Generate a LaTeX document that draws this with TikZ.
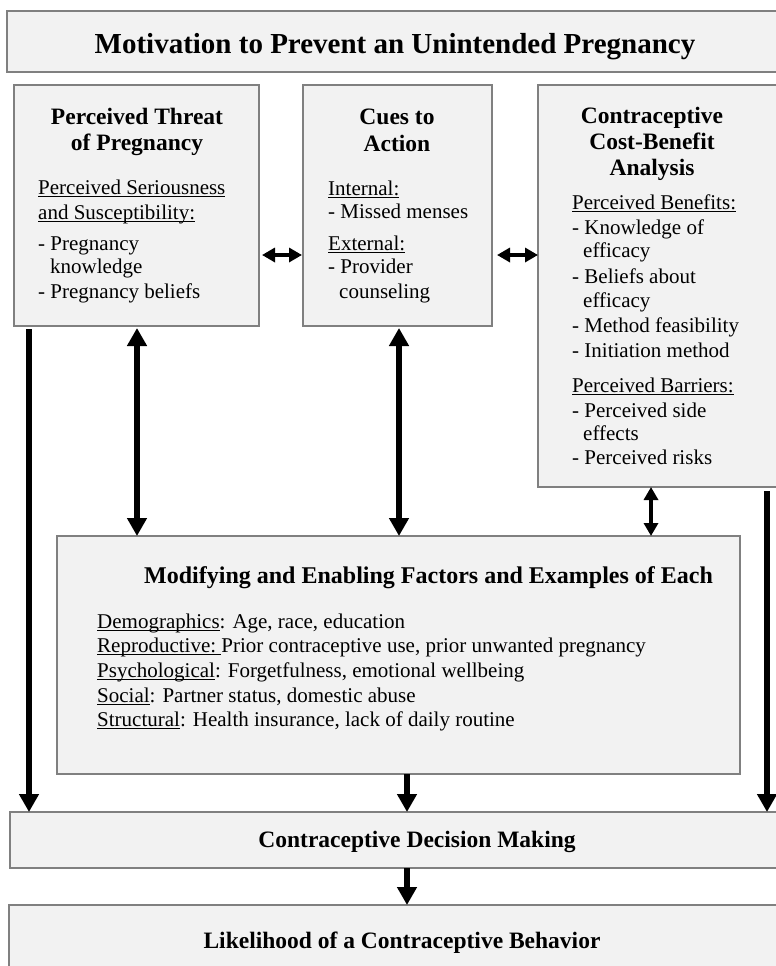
\documentclass[tikz,border=0pt]{standalone}
\usepackage{fontspec}
\setmainfont{Liberation Serif}
\usetikzlibrary{arrows.meta,positioning,calc}
\definecolor{boxgray}{RGB}{242,242,242}
\definecolor{edgegray}{RGB}{128,128,128}
\newcommand{\uword}[1]{\setbox0\hbox{#1}\rlap{\rule[-3pt]{\wd0}{1.1pt}}\box0}
\tikzset{
  box/.style = {draw = edgegray, fill = boxgray, line width = 1.3pt, anchor = north west, inner sep = 0pt, outer sep = 0pt},
  head/.style = {anchor = base, font = \fontsize{23.5}{26}\selectfont\bfseries},
  body/.style = {anchor = base west, inner sep = 0pt, font = \fontsize{21}{24}\selectfont},
  bigarrow/.style = {line width = 6.5pt, -{Triangle[length=18pt, width=19pt]}},
  bigboth/.style = {line width = 6.5pt, {Triangle[length=18pt, width=19pt]}-{Triangle[length=18pt, width=19pt]}},
  smallboth/.style = {line width = 4pt, {Triangle[length=13pt, width=14pt]}-{Triangle[length=13pt, width=14pt]}}
}
\begin{document}
\begin{tikzpicture}[x = 1pt, y = -1pt]
\useasboundingbox (0,0) rectangle (776,966);
\clip (0,0) rectangle (776,966);
% Boxes
\node[box, minimum width = 783pt, minimum height = 61pt] (motiv) at (7,11) {};
\node[box, minimum width = 245pt, minimum height = 241pt] (threat) at (14,85) {};
\node[box, minimum width = 189pt, minimum height = 241pt] (cues) at (303,85) {};
\node[box, minimum width = 252pt, minimum height = 402pt] (costben) at (538,85) {};
\node[box, minimum width = 683pt, minimum height = 238pt] (modif) at (57,536) {};
\node[box, minimum width = 780pt, minimum height = 56pt] (decide) at (10,812) {};
\node[box, minimum width = 781pt, minimum height = 85pt] (likely) at (9,905) {};
% Title
\node[anchor = base, font = \fontsize{29}{32}\selectfont\bfseries] (motivtxt) at (395,53) {Motivation to Prevent an Unintended Pregnancy};
% Perceived threat
\node[head] (threath1) at (137,124) {Perceived Threat};
\node[head] (threath2) at (137,150) {of Pregnancy};
\node[body] (threat1) at (38,194) {\uword{Perceived Seriousness}};
\node[body] (threat2) at (38,219) {\uword{and Susceptibility:}};
\node[body] (threat3) at (38,250) {- Pregnancy};
\node[body] (threat4) at (50,273) {knowledge};
\node[body] (threat5) at (38,298) {- Pregnancy beliefs};
% Cues to action
\node[head] (cuesh1) at (397,124) {Cues to};
\node[head] (cuesh2) at (397,151) {Action};
\node[body] (cues1) at (328,195) {\uword{Internal:}};
\node[body] (cues2) at (328,218) {- Missed menses};
\node[body] (cues3) at (328,250) {\uword{External:}};
\node[body] (cues4) at (328,273) {- Provider};
\node[body] (cues5) at (339,298) {counseling};
% Cost-benefit
\node[head] (costh1) at (652,123) {Contraceptive};
\node[head] (costh2) at (652,149) {Cost-Benefit};
\node[head] (costh3) at (652,175) {Analysis};
\node[body] (cost1) at (572,209) {\uword{Perceived Benefits:}};
\node[body] (cost2) at (572,234) {- Knowledge of};
\node[body] (cost3) at (583,257) {efficacy};
\node[body] (cost4) at (572,283) {- Beliefs about};
\node[body] (cost5) at (583,307) {efficacy};
\node[body] (cost6) at (572,332) {- Method feasibility};
\node[body] (cost7) at (572,357) {- Initiation method};
\node[body] (cost8) at (572,392) {\uword{Perceived Barriers:}};
\node[body] (cost9) at (572,417) {- Perceived side};
\node[body] (cost10) at (583,440) {effects};
\node[body] (cost11) at (572,464) {- Perceived risks};
% Modifying factors
\node[head, anchor = base west, inner sep = 0pt, font = \fontsize{24}{26}\selectfont\bfseries] (modifh) at (144,583) {Modifying and Enabling Factors and Examples of Each};
\node[body] (modif1) at (97,628) {\uword{Demographics}: Age, race, education};
\node[body] (modif2) at (97,652) {\uword{Reproductive:\ }Prior contraceptive use, prior unwanted pregnancy};
\node[body] (modif3) at (97,677) {\uword{Psychological}: Forgetfulness, emotional wellbeing};
\node[body] (modif4) at (97,702) {\uword{Social}: Partner status, domestic abuse};
\node[body] (modif5) at (97,726) {\uword{Structural}: Health insurance, lack of daily routine};
% Bottom boxes
\node[head] (decidetxt) at (417,847) {Contraceptive Decision Making};
\node[head] (likelytxt) at (402,948) {Likelihood of a Contraceptive Behavior};
% Arrows
\coordinate (xleft) at (29,0);
\coordinate (xthreat) at (137,0);
\coordinate (xcues) at (399,0);
\coordinate (xcost) at (651,0);
\coordinate (xright) at (767,0);
\coordinate (xmid) at (407,0);
\coordinate (yside) at (0,255);
\draw[smallboth, shorten <= 3pt, shorten >= 1pt] (threat.east |- yside) -- (cues.west |- yside);
\draw[smallboth, shorten <= 5pt] (cues.east |- yside) -- (costben.west |- yside);
\draw[bigboth, shorten <= 2pt] (xthreat |- threat.south) -- (xthreat |- modif.north);
\draw[bigboth, shorten <= 2pt] (xcues |- cues.south) -- (xcues |- modif.north);
\draw[smallboth, line width = 4.5pt] (xcost |- costben.south) -- (xcost |- modif.north);
\draw[bigarrow, shorten <= 3pt] (xleft |- threat.south) -- (xleft |- decide.north);
\draw[bigarrow, shorten <= 4pt] (xright |- costben.south) -- (xright |- decide.north);
\draw[bigarrow] (xmid |- modif.south) -- (xmid |- decide.north);
\draw[bigarrow] (xmid |- decide.south) -- (xmid |- likely.north);
\end{tikzpicture}
\end{document}
